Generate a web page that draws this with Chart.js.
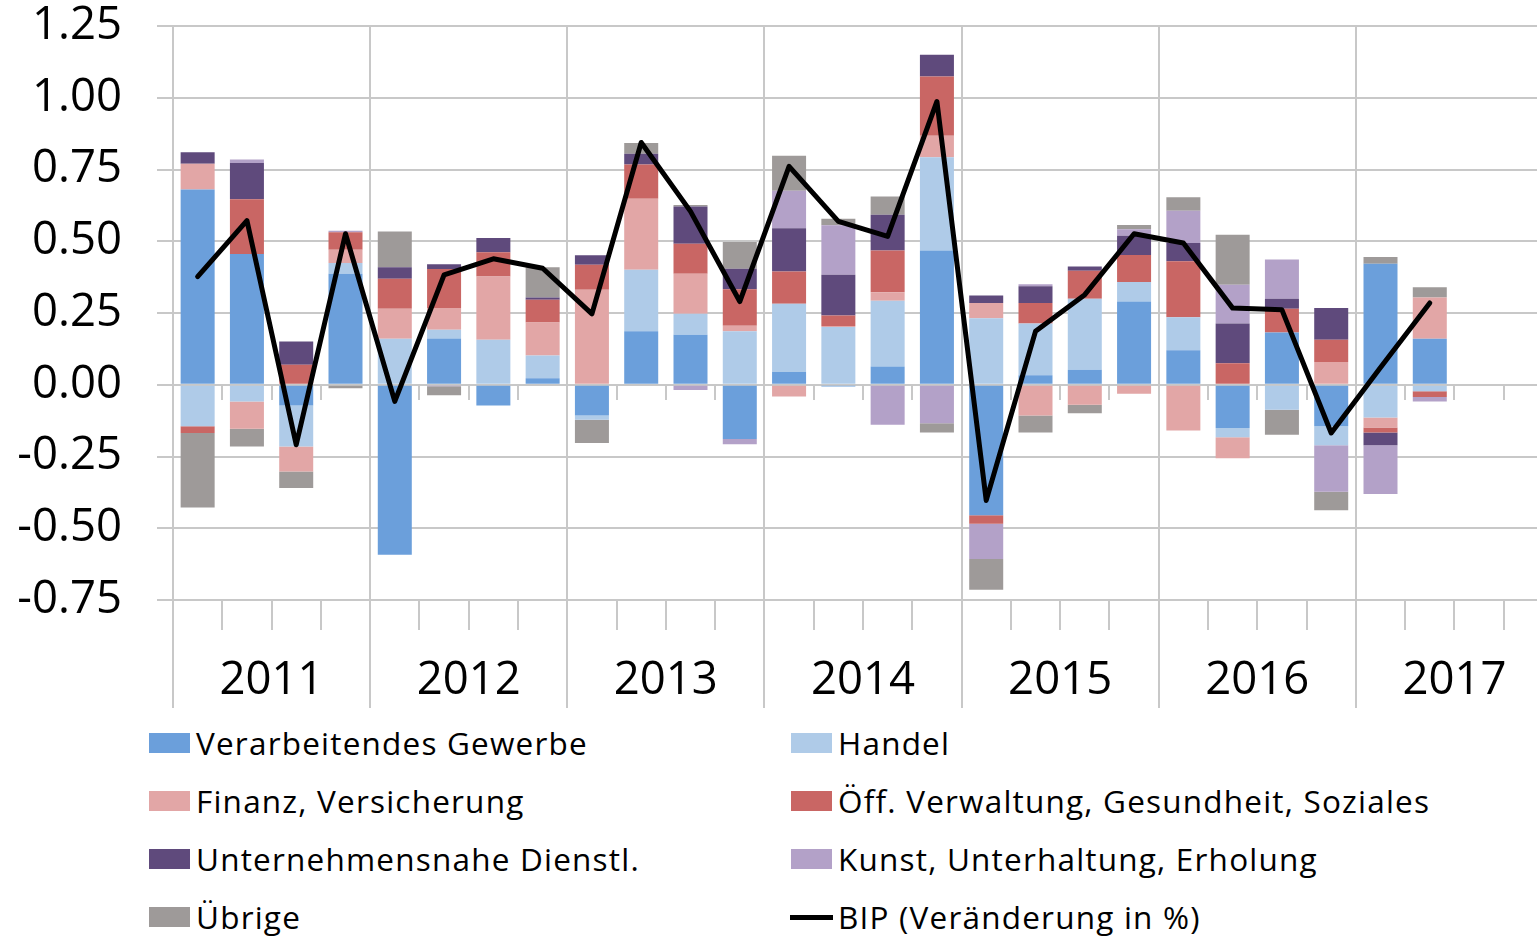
<!DOCTYPE html>
<html>
<head>
<meta charset="utf-8">
<script src="https://cdn.jsdelivr.net/npm/chart.js@4.4.0/dist/chart.umd.min.js"></script>
<style>
  html, body { margin: 0; padding: 0; overflow: hidden; background: #fff; width: 1537px; height: 937px; }
  #wrap { position: absolute; left: 0; top: 0; width: 1554px; height: 720px; }
  .leg { position: absolute; height: 44px; display: flex; align-items: center; font-family: 'Open Sans'; font-size: 31.5px; letter-spacing: 1.2px; color: #000; white-space: nowrap; }
  .leg span { position: relative; top: -1px; }
  .leg i { display: block; width: 41px; height: 20px; margin-right: 6px; }
  .leg i.line { height: 5px; width: 43px; margin-left: -1px; margin-right: 5px; background: #000; }
</style>
</head>
<body>
<div id="wrap"><canvas id="myChart" width="1554" height="720"></canvas></div>
<div id="legend"></div>
<script>
// quarters 2011 Q1 .. 2017 Q4 (last two still empty)
const quarters = ['2011 Q1', '2011 Q2', '2011 Q3', '2011 Q4',
                  '2012 Q1', '2012 Q2', '2012 Q3', '2012 Q4',
                  '2013 Q1', '2013 Q2', '2013 Q3', '2013 Q4',
                  '2014 Q1', '2014 Q2', '2014 Q3', '2014 Q4',
                  '2015 Q1', '2015 Q2', '2015 Q3', '2015 Q4',
                  '2016 Q1', '2016 Q2', '2016 Q3', '2016 Q4',
                  '2017 Q1', '2017 Q2', '2017 Q3', '2017 Q4'];
const years = ['2011', '2012', '2013', '2014', '2015', '2016', '2017'];

const verarbeitend = [0.68, 0.456, -0.072, 0.387, -0.592, 0.161, -0.072, 0.023, -0.107, 0.186, 0.174, -0.189, 0.044, -0.006, 0.064, 0.468, -0.455, 0.033, 0.052, 0.29, 0.12, -0.151, 0.182, -0.145, 0.422, 0.16, null, null];
const handel = [-0.145, -0.058, -0.143, 0.037, 0.16, 0.031, 0.157, 0.079, -0.015, 0.215, 0.073, 0.186, 0.238, 0.201, 0.229, 0.325, 0.232, 0.18, 0.248, 0.068, 0.115, -0.032, -0.087, -0.066, -0.114, -0.023, null, null];
const finanz = [0.09, -0.095, -0.087, 0.046, 0.105, 0.075, 0.22, 0.115, 0.331, 0.247, 0.14, 0.02, -0.041, 0.004, 0.029, 0.075, 0.053, -0.107, -0.07, -0.031, -0.159, -0.073, 0, 0.079, -0.035, 0.144, null, null];
const oeffentlich = [-0.023, 0.19, 0.07, 0.061, 0.104, 0.136, 0.085, 0.079, 0.087, 0.119, 0.104, 0.127, 0.113, 0.036, 0.146, 0.206, -0.029, 0.072, 0.097, 0.094, 0.195, 0.075, 0.083, 0.078, -0.017, -0.02, null, null];
const unternehmen = [0.04, 0.127, 0.081, 0, 0.04, 0.017, 0.049, 0.008, 0.033, 0.038, 0.13, 0.071, 0.15, 0.142, 0.124, 0.076, 0.026, 0.058, 0.015, 0.067, 0.064, 0.138, 0.035, 0.11, -0.045, 0, null, null];
const kunst = [0, 0.012, 0, 0.006, 0, -0.005, 0, 0, 0, 0, -0.018, -0.018, 0.131, 0.173, -0.139, -0.134, -0.123, 0.007, 0, 0.023, 0.112, 0.135, 0.136, -0.162, -0.17, -0.015, null, null];
const uebrige = [-0.26, -0.062, -0.058, -0.012, 0.125, -0.032, 0, 0.105, -0.081, 0.037, 0.005, 0.093, 0.122, 0.022, 0.064, -0.032, -0.107, -0.059, -0.029, 0.015, 0.047, 0.175, -0.087, -0.064, 0.023, 0.036, null, null];
const bip = [0.377, 0.572, -0.209, 0.526, -0.058, 0.383, 0.439, 0.406, 0.247, 0.844, 0.604, 0.29, 0.761, 0.569, 0.517, 0.987, -0.403, 0.186, 0.314, 0.526, 0.494, 0.267, 0.261, -0.168, 0.06, 0.285, null, null];

const sectors = [
    { label: 'Verarbeitendes Gewerbe', data: verarbeitend, color: '#6B9FDB' },
    { label: 'Handel', data: handel, color: '#AFCBE8' },
    { label: 'Finanz, Versicherung', data: finanz, color: '#E2A6A6' },
    { label: 'Öff. Verwaltung, Gesundheit, Soziales', data: oeffentlich, color: '#C96664' },
    { label: 'Unternehmensnahe Dienstl.', data: unternehmen, color: '#5F4A7C' },
    { label: 'Kunst, Unterhaltung, Erholung', data: kunst, color: '#B3A1C8' },
    { label: 'Übrige', data: uebrige, color: '#9E9A99' }
];
const bipLabel = 'BIP (Veränderung in %)';

const gridGray = '#C8C8C8';
Chart.defaults.font.family = "'Open Sans'";
Chart.defaults.color = '#000';

const datasets = sectors.map(s => ({
    label: s.label,
    data: s.data,
    backgroundColor: s.color,
    borderWidth: 0,
    stack: 'sectors',
    categoryPercentage: 0.69,
    barPercentage: 1,
    order: 1
}));
datasets.push({
    type: 'line',
    label: bipLabel,
    data: bip,
    borderColor: '#000',
    borderWidth: 5,
    borderJoinStyle: 'round',
    borderCapStyle: 'round',
    pointRadius: 0,
    tension: 0,
    fill: false,
    stack: 'bip',
    order: 0
});

const ctx = document.getElementById('myChart').getContext('2d');
const myChart = new Chart(ctx, {
    type: 'bar',
    data: { labels: quarters, datasets: datasets },
    options: {
        responsive: false,
        animation: false,
        layout: { padding: { top: 26, bottom: 10, left: 0, right: 1 } },
        plugins: { legend: { display: false }, tooltip: { enabled: false } },
        scales: {
            x: {
                type: 'category',
                stacked: true,
                offset: true,
                weight: 0,
                grid: {
                    offset: true,
                    lineWidth: 2,
                    color: c => (c.index % 4 === 0 ? gridGray : 'rgba(0,0,0,0)'),
                    tickColor: gridGray,
                    tickLength: 30
                },
                border: { color: gridGray, width: 2 },
                ticks: { display: false },
                afterFit: s => { s.height = 30; }
            },
            xYears: {
                type: 'category',
                labels: years,
                position: 'bottom',
                offset: true,
                weight: 1,
                grid: { offset: true, drawOnChartArea: false, lineWidth: 2, color: gridGray, tickLength: 78 },
                border: { display: false },
                ticks: { font: { size: 45.5 }, padding: -54, autoSkip: false, maxRotation: 0 },
                afterFit: s => { s.height = 80; }
            },
            xZero: {
                type: 'category',
                position: { y: 0 },
                offset: true,
                grid: { offset: true, drawOnChartArea: false, lineWidth: 2, color: gridGray, tickLength: 15 },
                border: { display: false },
                ticks: { display: false }
            },
            y: {
                stacked: true,
                min: -0.75,
                max: 1.25,
                grid: { color: gridGray, lineWidth: 2, tickLength: 16 },
                border: { color: gridGray, width: 2 },
                ticks: {
                    stepSize: 0.25,
                    padding: 35,
                    font: { size: 45.5 },
                    callback: v => v.toFixed(2)
                },
                afterFit: s => { s.width = 173; s.paddingTop = 20; s.paddingBottom = 20; }
            }
        }
    }
});

// legend in two columns, as in the original
const legendItems = sectors.map(s => ({ label: s.label, color: s.color }));
legendItems.push({ label: bipLabel, line: true });
const colX = [149, 791];
const rowY = [743, 801, 859, 917];
const legendBox = document.getElementById('legend');
legendItems.forEach((it, i) => {
    const div = document.createElement('div');
    div.className = 'leg';
    div.style.left = colX[i % 2] + 'px';
    div.style.top = (rowY[Math.floor(i / 2)] - 22) + 'px';
    const sw = document.createElement('i');
    if (it.line) sw.className = 'line'; else sw.style.background = it.color;
    div.appendChild(sw);
    const span = document.createElement('span');
    span.textContent = it.label;
    div.appendChild(span);
    legendBox.appendChild(div);
});
</script>
</body>
</html>
